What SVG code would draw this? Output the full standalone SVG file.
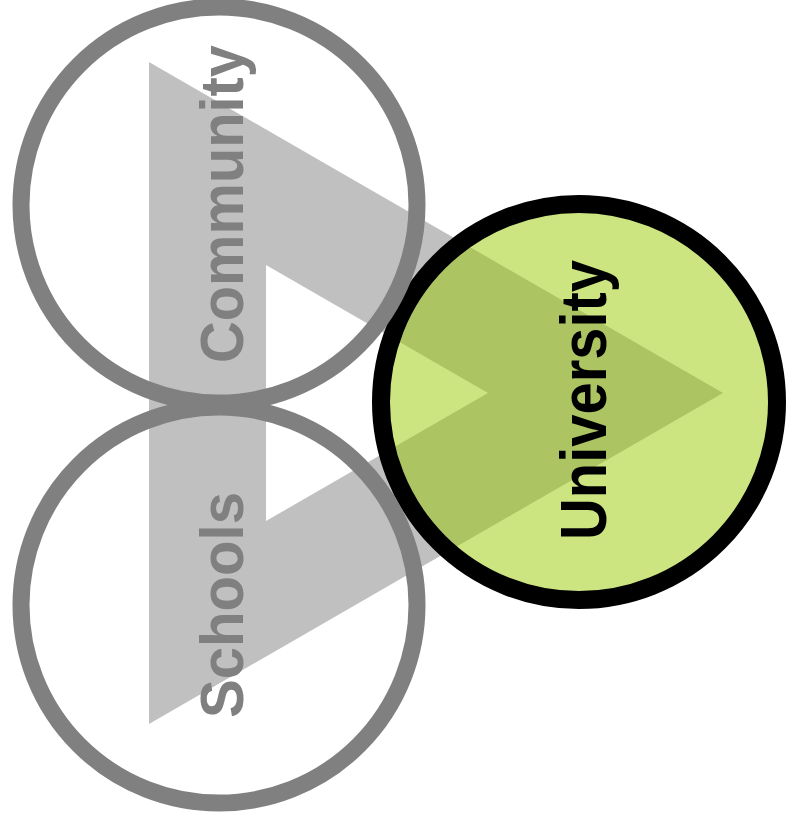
<svg xmlns="http://www.w3.org/2000/svg" width="788" height="830" viewBox="0 0 788 830">
  <style>
    .ring { fill: none; stroke: #808080; stroke-width: 17; }
    .label { font-family: "Liberation Sans", Arial, Helvetica, sans-serif; font-weight: bold; text-anchor: middle; }
    .gray { fill: #808080; }
    .dark { fill: #000000; }
  </style>
  <defs>
    <path id="tri" d="M149,62 L723,393 L149,724 Z M266,265 L266,521 L488,393 Z" fill-rule="evenodd"/>
    <clipPath id="uniClip"><circle cx="579" cy="402" r="189"/></clipPath>
  </defs>
  <rect width="788" height="830" fill="#ffffff"/>
  <g id="connectors">
    <use href="#tri" fill="#c0c0c0"/>
  </g>
  <g id="university">
    <circle cx="579" cy="402" r="198" fill="#cde580" stroke="none"/>
    <use href="#tri" fill="#adc463" clip-path="url(#uniClip)"/>
    <circle cx="579" cy="402" r="198" fill="none" stroke="#000000" stroke-width="18"/>
    <text class="label dark" font-size="64" transform="translate(606,400) rotate(-90)" textLength="280" lengthAdjust="spacingAndGlyphs">University</text>
  </g>
  <g id="community">
    <circle class="ring" cx="219" cy="205" r="198"/>
    <text class="label gray" font-size="61" transform="translate(243,204) rotate(-90)" textLength="318" lengthAdjust="spacingAndGlyphs">Community</text>
  </g>
  <g id="schools">
    <circle class="ring" cx="219" cy="605" r="198"/>
    <text class="label gray" font-size="61" transform="translate(243,605) rotate(-90)" textLength="226" lengthAdjust="spacingAndGlyphs">Schools</text>
  </g>
</svg>
